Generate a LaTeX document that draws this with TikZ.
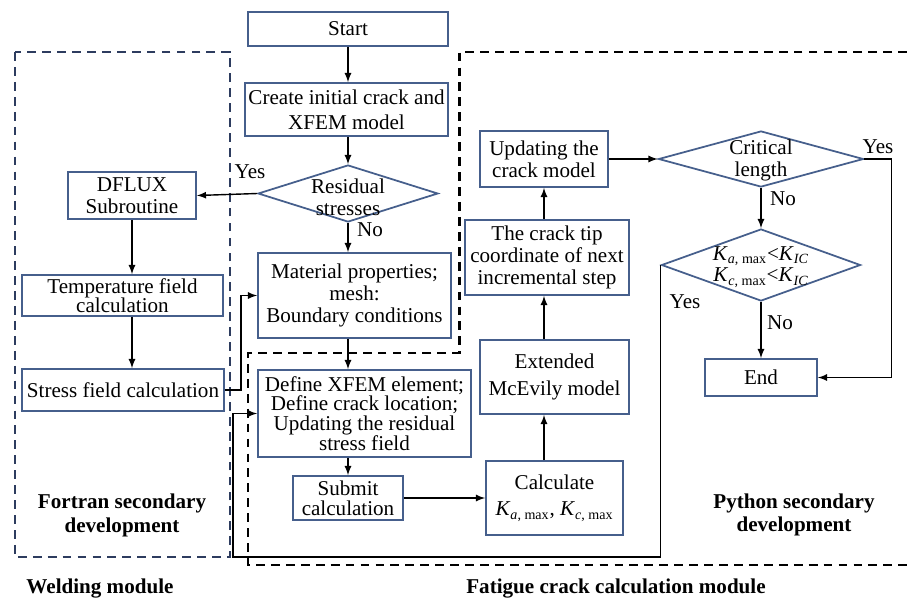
\documentclass[tikz,border=0pt]{standalone}
\usepackage{fontspec}
\setmainfont{Liberation Serif}
\usepackage{tikz}
\usetikzlibrary{shapes.geometric}

\definecolor{boxblue}{RGB}{70,95,140}
\definecolor{weldnavy}{RGB}{45,60,95}

\begin{document}
\begin{tikzpicture}[
  font=\fontsize{12}{12.5}\selectfont,
  box/.style={draw=boxblue, line width=1pt, align=center, inner sep=1pt},
  decision/.style={diamond, draw=boxblue, line width=1pt, inner sep=0pt},
  arrow/.style={-latex, line width=0.8pt},
  module/.style={line width=1.3pt, dash pattern=on 5pt off 3.5pt},
  heading/.style={font=\fontsize{12}{13.5}\selectfont\bfseries, align=center}
]
\useasboundingbox (0,0) rectangle (18.14,-12);

\draw[module, color=weldnavy] (0.3,-1.04) rectangle (4.6,-11.14);
\draw[module, color=black] (18.14,-1.04) -- (9.19,-1.04) -- (9.19,-7.06) -- (4.96,-7.06) -- (4.96,-11.3) -- (18.14,-11.3);

\node[box, minimum width=4cm, minimum height=0.68cm] (start) at (6.96,-0.58) {Start};
\node[box, minimum width=4.06cm, minimum height=1.06cm, font=\fontsize{12}{14}\selectfont] (create) at (6.93,-2.19) {Create initial crack and\\XFEM model};
\node[decision, minimum width=3.6cm, minimum height=1.14cm, label={[align=center, yshift=-2pt]center:Residual\\stresses}] (resid) at (6.96,-3.87) {};

\node[box, minimum width=2.56cm, minimum height=0.94cm] (dflux) at (2.64,-3.91) {DFLUX\\Subroutine};
\node[box, minimum width=4.02cm, minimum height=0.82cm, font=\fontsize{12}{11}\selectfont] (temp) at (2.45,-5.91) {Temperature field\\calculation};
\node[box, minimum width=4.04cm, minimum height=0.84cm] (stress) at (2.46,-7.8) {Stress field calculation};

\node[box, minimum width=3.86cm, minimum height=1.7cm] (mat) at (7.09,-5.91) {Material properties;\\mesh:\\Boundary conditions};
\node[box, minimum width=4.26cm, minimum height=1.74cm, font=\fontsize{12}{11.2}\selectfont] (define) at (7.29,-8.27) {Define XFEM element;\\Define crack location;\\Updating the residual\\stress field};
\node[box, minimum width=2.2cm, minimum height=0.88cm, font=\fontsize{12}{11.5}\selectfont] (submit) at (6.96,-9.96) {Submit\\calculation};

\node[box, minimum width=2.74cm, minimum height=1.48cm, font=\fontsize{12}{15}\selectfont] (calc) at (11.09,-9.96) {Calculate\\\textit{K}\textsubscript{\textit{a}, max}, \textit{K}\textsubscript{\textit{c}, max}};
\node[box, minimum width=2.98cm, minimum height=1.48cm, font=\fontsize{12}{15}\selectfont] (mcevily) at (11.09,-7.54) {Extended\\McEvily model};
\node[box, minimum width=3.28cm, minimum height=1.5cm] (tip) at (10.94,-5.15) {The crack tip\\coordinate of next\\incremental step};
\node[box, minimum width=2.56cm, minimum height=1.12cm] (update) at (10.88,-3.18) {Updating the\\crack model};

\node[decision, minimum width=4.1cm, minimum height=1.12cm, label={[align=center, yshift=-1pt]center:Critical\\length}] (critical) at (15.22,-3.18) {};
\node[decision, minimum width=3.98cm, minimum height=1.44cm, label={[align=center, yshift=-1pt]center:\textit{K}\textsubscript{\textit{a}, max}<\textit{K}\textsubscript{\textit{IC}}\\\textit{K}\textsubscript{\textit{c}, max}<\textit{K}\textsubscript{\textit{IC}}}] (kcheck) at (15.22,-5.3) {};
\node[box, minimum width=2.24cm, minimum height=0.74cm] (end) at (15.22,-7.55) {End};

\draw[arrow] (start.south) -- (start.south |- create.north);
\draw[arrow] (create.south -| start) -- (resid.north);
\draw[arrow] (resid.west) -- (dflux.east);
\draw[arrow] (resid.south) -- (resid.south |- mat.north);
\draw[arrow] (dflux.south) -- (dflux.south |- temp.north);
\draw[arrow] (temp.south -| dflux.south) -- (stress.north -| dflux.south);
\draw[arrow] (stress.east) -- ++(0.32,0) |- (mat.west);
\draw[arrow] (mat.south -| submit.north) -- (define.north -| submit.north);
\draw[arrow] (define.south -| submit.north) -- (submit.north);
\draw[arrow] (submit.east) -- (calc.west);
\draw[arrow] (calc.north -| update.south) -- (mcevily.south -| update.south);
\draw[arrow] (mcevily.north -| update.south) -- (tip.south -| update.south);
\draw[arrow] (tip.north -| update.south) -- (update.south);
\draw[arrow] (update.east) -- (critical.west);
\draw[arrow] (critical.south) -- (kcheck.north);
\draw[arrow] (critical.east) -- (17.83,-3.18) |- (end.east);
\draw[arrow] (kcheck.south) -- (end.north);
\draw[arrow] (kcheck.west) -- (kcheck.west |- 0,-11.14) -- (4.66,-11.14) |- (define.west);

\node (yes1) at (5.0,-3.44) {Yes};
\node (no1) at (7.4,-4.6) {No};
\node (yes2) at (17.56,-2.94) {Yes};
\node (no2) at (15.66,-3.98) {No};
\node (yes3) at (13.7,-6.04) {Yes};
\node (no3) at (15.6,-6.46) {No};

\node[heading] (fortran) at (2.44,-10.31) {Fortran secondary\\development};
\node[heading] (python) at (15.88,-10.3) {Python secondary\\development};
\node[heading] (welding) at (2.0,-11.76) {Welding module};
\node[heading] (fatigue) at (12.32,-11.76) {Fatigue crack calculation module};

\end{tikzpicture}
\end{document}
